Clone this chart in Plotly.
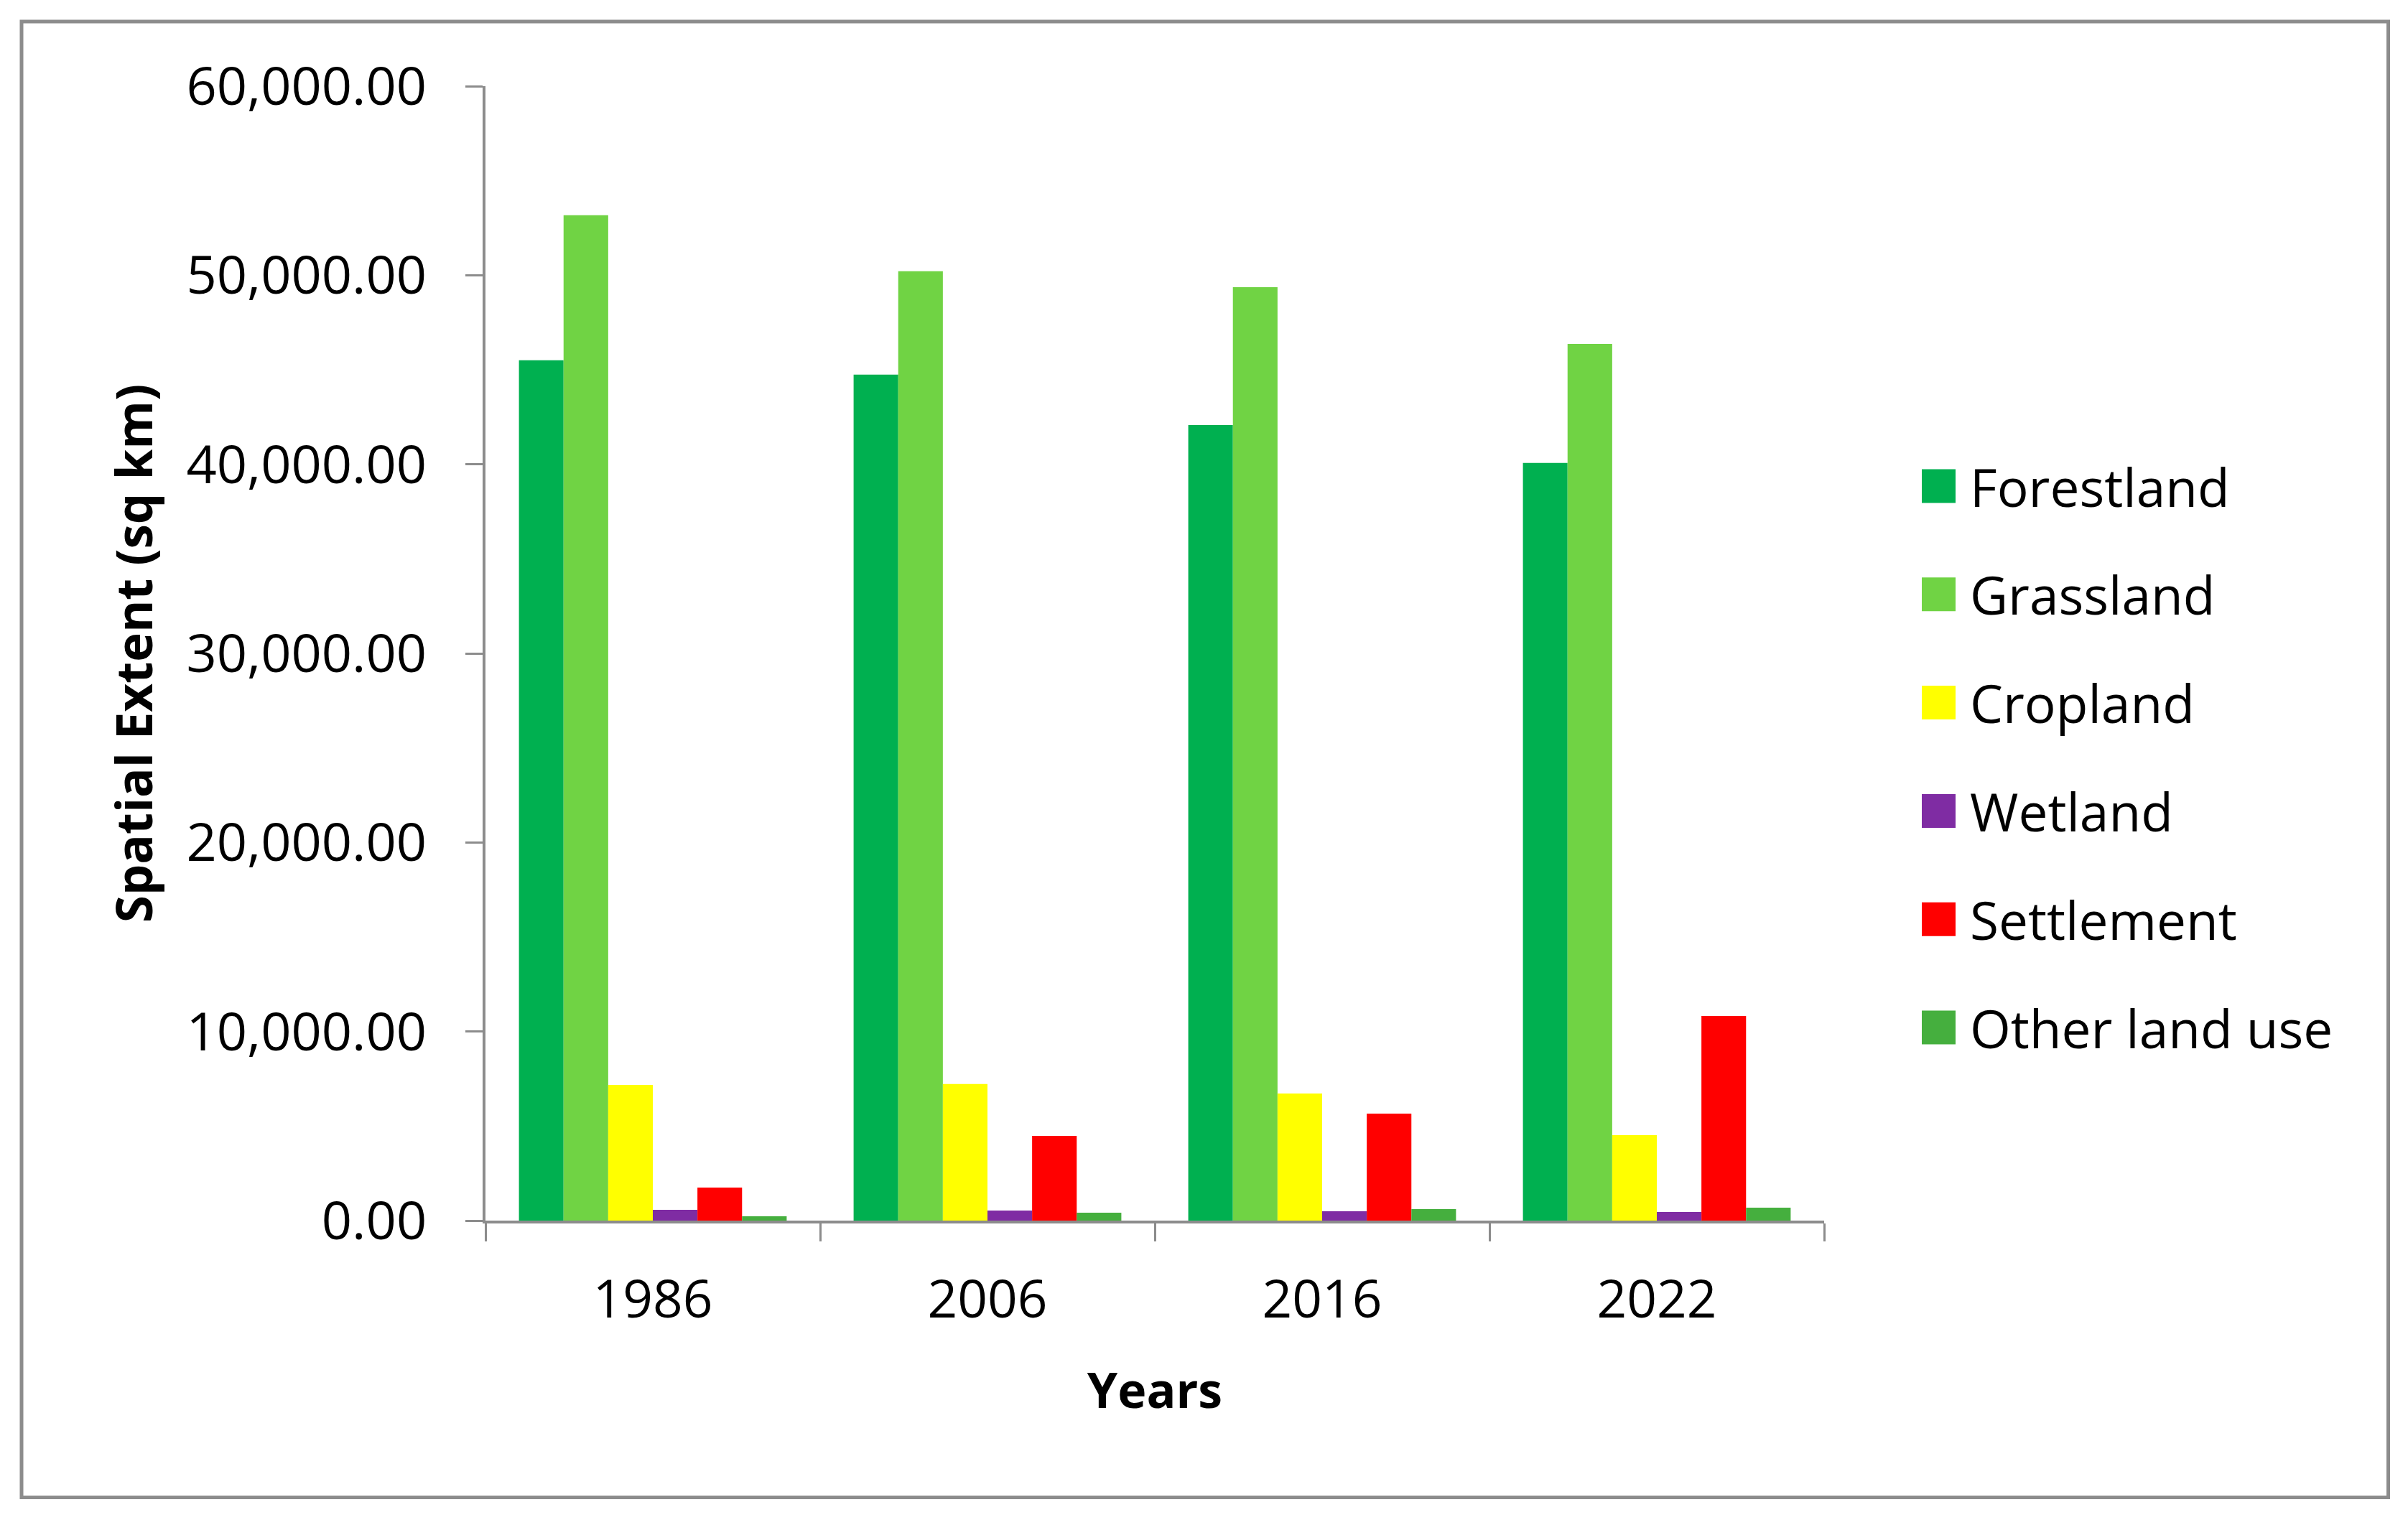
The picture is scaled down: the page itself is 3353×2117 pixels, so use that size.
import plotly.graph_objects as go

# ---- data ----
years = ["1986", "2006", "2016", "2022"]
forestland = [45500, 44740, 42080, 40070]
grassland = [53170, 50210, 49370, 46370]
cropland = [7180, 7220, 6720, 4520]
wetland = [570, 530, 490, 460]
settlement = [1750, 4480, 5660, 10820]
other_land_use = [230, 420, 610, 680]

series_names = ["Forestland", "Grassland", "Cropland", "Wetland", "Settlement", "Other land use"]
series_values = [forestland, grassland, cropland, wetland, settlement, other_land_use]
series_colors = ["#00B050", "#70D344", "#FFFF00", "#7F2CA3", "#FF0000", "#45AF3E"]

# ---- geometry (page pixels; the page body adds an 8px offset) ----
OFF = 8
W, H = 3353 - 2 * OFF, 2117 - 2 * OFF
PL, PR, PT, PB = 676 - OFF, 2540 - OFF, 120 - OFF, 1700 - OFF
FONT = "Open Sans, Noto Sans, DejaVu Sans, sans-serif"
AXC = "#8c8c8c"

def px_x(x):
    return (x - OFF - PL) / (PR - PL)

def px_y(y):
    return (PB - (y - OFF)) / (PB - PT)

fig = go.Figure()
for name, vals, col in zip(series_names, series_values, series_colors):
    fig.add_trace(go.Bar(x=years, y=vals, name=name, marker=dict(color=col, line=dict(width=0)),
                         showlegend=False))

shapes = []
annotations = []
# outer border
shapes.append(dict(type="rect", xref="paper", yref="paper",
                   x0=px_x(30), x1=px_x(3325.5), y0=px_y(2085.5), y1=px_y(30),
                   line=dict(color=AXC, width=5), fillcolor="rgba(0,0,0,0)", layer="below"))
# custom legend
row0, step = 677, 150.8
for i, (name, col) in enumerate(zip(series_names, series_colors)):
    cy = row0 + i * step
    shapes.append(dict(type="rect", xref="paper", yref="paper",
                       x0=px_x(2676), x1=px_x(2723), y0=px_y(cy + 23.5), y1=px_y(cy - 23.5),
                       line=dict(width=0), fillcolor=col))
    annotations.append(dict(xref="paper", yref="paper", x=px_x(2741), y=px_y(cy),
                            xanchor="left", yanchor="middle", showarrow=False, text=name,
                            font=dict(family=FONT, size=73, color="black")))

fig.update_layout(
    width=W, height=H,
    margin=dict(l=PL, r=W - PR, t=PT, b=H - PB, pad=0, autoexpand=False),
    paper_bgcolor="white", plot_bgcolor="white",
    barmode="group", bargap=0.2, bargroupgap=0,
    font=dict(family=FONT, color="black"),
    shapes=shapes, annotations=annotations,
    showlegend=False,
)
fig.update_xaxes(
    type="category", showline=True, linecolor=AXC, linewidth=4,
    ticks="outside", tickson="boundaries", ticklen=25, tickwidth=3, tickcolor=AXC,
    tickfont=dict(family=FONT, size=73, color="black"),
    ticklabelstandoff=43,
    showgrid=False, zeroline=False, automargin=False,
    title=dict(text="<b>Years</b>", font=dict(family=FONT, size=68, color="black"), standoff=60),
)
fig.update_yaxes(
    range=[0, 60000], tickmode="linear", tick0=0, dtick=10000, tickformat=",.2f",
    showline=True, linecolor=AXC, linewidth=4,
    ticks="outside", ticklen=24, tickwidth=3, tickcolor=AXC,
    tickfont=dict(family=FONT, size=74, color="black"),
    ticklabelstandoff=39,
    showgrid=False, zeroline=False, automargin=False,
    title=dict(text="<b>Spatial Extent (sq km)</b>", font=dict(family=FONT, size=69, color="black"), standoff=25),
)

fig.write_html("out.html")
